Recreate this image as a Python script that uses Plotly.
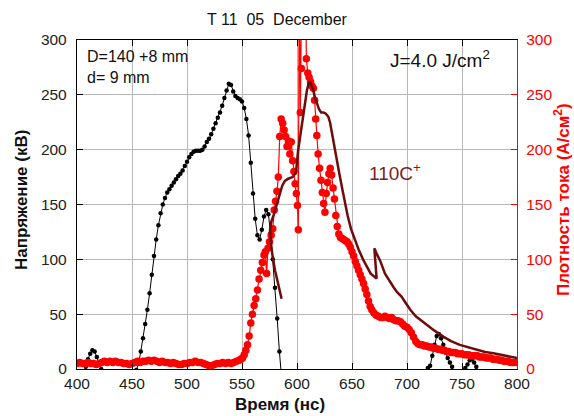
import plotly.graph_objects as go

# ---------------- data ----------------
# Voltage (kV), black dotted trace
volt_t = [400, 402, 404, 406, 408, 410, 412, 414, 416, 418, 420, 422, 424, 428, 432, 436, 440, 444, 448, 452,
          454, 456, 458, 460, 462, 464, 466, 468, 470, 472, 474, 476, 478, 480, 482, 484, 486, 488, 490, 492,
          494, 496, 498, 500, 502, 504, 506, 508, 510, 512, 514, 516, 518, 520, 522, 524, 526, 528, 530, 532,
          534, 536, 538, 540, 542, 544, 546, 548, 550, 552, 554, 556, 558, 560, 562, 564, 566, 568, 570, 572,
          574, 576, 578, 580, 582, 584, 586, 590, 600, 650, 700, 710, 716, 719, 721, 723, 725, 727, 729, 731,
          733, 735, 737, 739, 741, 743, 747, 751, 753, 755, 757, 759, 761, 763, 765, 770, 780, 790, 800]
volt_v = [-4, -4, -4, -3, 2, 9, 14, 17, 16, 11, 5, 0, -4, -4, -4, -4, -4, -4, -4, -4,
          -1, 5, 16, 28, 41, 54, 69, 86, 103, 118, 131, 142, 150, 156, 161, 164, 167, 170, 173, 176,
          178, 181, 185, 189, 193, 196, 198, 199, 199, 199, 200, 203, 207, 210, 214, 219, 224, 229, 234, 240,
          247, 254, 260, 259, 253, 249, 247, 246, 244, 238, 228, 213, 188, 160, 137, 122, 118, 127, 139, 145,
          141, 124, 100, 74, 46, 16, -8, -30, -40, -40, -30, -20, -4, 1, 3, 12, 22, 30, 32, 28,
          22, 15, 10, 6, 2, -3, -4, -2, 1, 4, 8, 9, 6, 2, -2, -5, -6, -6, -6]

# Current density (A/cm^2), red trace
cur_t = [400, 402.5, 405, 407.5, 410, 412.5, 415, 417.5, 420, 422.5, 425, 427.5, 430, 432.5, 435, 437.5,
         440, 442.5, 445, 447.5, 450, 452.5, 455, 457.5, 460, 462.5, 465, 467.5, 470, 472.5, 475, 477.5,
         480, 482.5, 485, 487.5, 490, 492.5, 495, 497.5, 500, 502.5, 505, 507.5, 510, 512.5, 515, 517.5,
         520, 522.5, 525, 527.5, 530, 532.5, 535, 537.5, 540, 542.5, 545, 547.5,
         549, 550.5, 552, 553.5, 555, 556.5, 558, 559.5, 561, 562.5, 564, 565.5, 567, 568.5, 570, 571.2,
         572.4, 573.6, 575, 576.5, 578, 579.3, 580.5, 581.8, 583, 584.3, 585.6, 587, 588.3, 589.6, 590.9,
         592.2, 593.5, 594.8, 596, 597.2, 598.3, 599.4, 600.4, 601.2, 602, 603, 604, 605, 606.2, 607.4,
         608.5, 609.8, 611, 612.3, 613.6, 614.9, 616, 617, 618, 619.2, 620.5, 621.8, 623, 624.2, 625.4,
         626.6, 627.8, 629, 630.2, 631.5, 632.8, 634, 635.3, 636.6, 638, 639.5, 641, 642.5, 644, 645.5,
         647, 648.5, 650, 651.5, 653, 654.5, 656, 657.5, 659, 660.5, 662, 663.5, 665, 666.5, 668, 670,
         672, 674, 676, 678, 680, 682, 684, 686, 688, 690, 692, 694, 696, 698, 700, 702, 704, 706, 708,
         710, 712, 714, 716, 718, 720, 722, 724, 726, 728, 730, 732, 734, 736, 738, 740, 742, 744, 746,
         748, 750, 752, 754, 756, 758, 760, 762, 764, 766, 768, 770, 772, 774, 776, 778, 780, 782, 784,
         786, 788, 790, 792, 794, 796, 798, 800]
cur_j = [5, 6, 5, 5, 6, 5, 5, 4, 5, 6, 7, 6, 7, 6, 7, 6,
         6, 5, 5, 4, 5, 6, 7, 6, 7, 7, 8, 7, 8, 7, 6, 7,
         6, 6, 5, 6, 5, 4, 4, 5, 5, 6, 6, 7, 6, 6, 5, 4,
         3, 3, 4, 5, 5, 6, 5, 6, 5, 6, 7, 8,
         9, 10, 13, 17, 22, 30, 42, 50, 58, 64, 72, 82, 90, 97, 104, 107,
         87, 110, 116, 122, 128, 145, 153, 162, 175, 212, 228, 224, 218, 212, 203,
         208, 196, 207, 190, 180, 169, 160, 149, 127, 360, 234, 274, 420, 330, 400,
         283, 270, 266, 262, 258, 256, 245, 228, 213, 196, 183, 172, 161, 151, 143,
         160, 170, 178, 183, 177, 165, 155, 140, 130, 123, 120, 119, 118, 117, 116,
         114, 111, 107, 103, 98, 94, 90, 86, 82, 78, 73, 68, 62, 57, 54, 51,
         49, 48, 47, 47, 48, 47, 46, 47, 45, 44, 44, 43, 41, 39, 38, 36, 33, 29, 25,
         23, 22, 22, 21, 21, 20, 20, 19, 19, 18, 18, 17, 17, 16, 16, 15, 15, 15, 14,
         14, 14, 13, 13, 13, 12, 12, 12, 12, 11, 11, 11, 10, 10, 10, 9, 9, 9, 8,
         8, 7, 7, 7, 6, 6, 6, 6]

# Model curve 110C+ (A/cm^2), dark red line
model_t = [586, 583, 580, 577.5, 576, 575.5, 576.5, 579, 581.5, 584, 586.5, 589, 592, 596, 599,
           601, 602.5, 604.3, 606, 607.5, 609, 610.5, 611.8, 613.3, 614.8, 616.5, 618, 620, 622, 624,
           626, 628.5, 630, 631.5, 633.5, 636, 638.5, 641, 643.5, 646, 649, 652.5, 656, 660, 663.5,
           667, 672.4, 670.3, 672.5, 675.5, 680, 684, 687.5, 691, 695, 699, 703, 708, 713, 718,
           725, 733, 740, 748, 756, 763, 771, 778.5, 786, 793.5, 800]
model_j = [64, 76, 90, 105, 117, 127, 134, 141, 149, 158, 167, 171.5, 173.5, 175, 179,
           199, 210, 222, 234, 244, 254, 260, 262, 258, 254, 247, 242, 237, 234, 234,
           233, 230, 225, 216, 205, 192, 178, 165, 152, 140, 128, 118, 109, 100, 93,
           87, 82.5, 110, 105, 99, 87, 80, 75, 70, 66, 60, 54, 48, 44, 40,
           35, 29.5, 25.5, 22, 19.5, 17.3, 15.5, 14.3, 12.8, 11.2, 10]

x_ticks = [400, 450, 500, 550, 600, 650, 700, 750, 800]
y_ticks = [0, 50, 100, 150, 200, 250, 300]

# ---------------- layout constants ----------------
W, H = 574, 416
ML, MR, MT, MB = 77, 57, 40, 47
PW, PH = W - ML - MR, H - MT - MB


def px(xp):
    return (xp - ML) / PW


def py(yp):
    return (H - MB - yp) / PH


FONT = "Liberation Sans, Arial, sans-serif"
RED = "#ff0000"
MODEL = "#6e0c0c"

fig = go.Figure()

fig.add_trace(go.Scatter(
    x=cur_t, y=cur_j, yaxis="y2", mode="lines+markers",
    line=dict(color=RED, width=1.2),
    marker=dict(color=RED, size=7.5), hoverinfo="skip"))

fig.add_trace(go.Scatter(
    x=volt_t, y=volt_v, mode="lines+markers",
    line=dict(color="black", width=1),
    marker=dict(color="black", size=4.5), hoverinfo="skip"))

fig.add_trace(go.Scatter(
    x=model_t, y=model_j, yaxis="y2", mode="lines",
    line=dict(color=MODEL, width=2.5), hoverinfo="skip"))

grid = "#b8b8b8"
fig.update_layout(
    width=W, height=H,
    margin=dict(l=ML, r=MR, t=MT, b=MB),
    paper_bgcolor="white", plot_bgcolor="white",
    showlegend=False,
    font=dict(family=FONT, color="#222"),
    xaxis=dict(range=[400, 800], tickvals=x_ticks, ticktext=[str(v) for v in x_ticks],
               showgrid=True, gridcolor=grid, gridwidth=1,
               showline=True, linecolor="black", linewidth=1.3, mirror="ticks",
               ticks="inside", ticklen=6, tickcolor="black", tickwidth=1.3,
               tickfont=dict(size=15.5, color="#222"), zeroline=False),
    yaxis=dict(range=[0, 300], tickvals=y_ticks, ticktext=[str(v) for v in y_ticks],
               showgrid=True, gridcolor=grid, gridwidth=1,
               showline=True, linecolor="black", linewidth=1.3,
               ticks="inside", ticklen=6, tickcolor="black", tickwidth=1.3,
               tickfont=dict(size=15.5, color="#222"), zeroline=False,
               ticklabelstandoff=6),
    yaxis2=dict(range=[0, 300], tickvals=y_ticks, ticktext=[str(v) for v in y_ticks],
                overlaying="y", side="right", showgrid=False,
                showline=True, linecolor=RED, linewidth=1.3,
                ticks="inside", ticklen=6, tickcolor=RED, tickwidth=1.3,
                tickfont=dict(size=15.5, color=RED), zeroline=False,
                ticklabelstandoff=5),
)

ann = []
ann.append(dict(text="T 11  05  December", x=px(277), y=py(19), xref="paper", yref="paper",
                showarrow=False, xanchor="center", yanchor="middle",
                font=dict(size=16, color="#111", family=FONT)))
ann.append(dict(text="<b>Время (нс)</b>", x=px(280), y=py(404), xref="paper", yref="paper",
                showarrow=False, xanchor="center", yanchor="middle",
                font=dict(size=17, color="#111", family=FONT)))
ann.append(dict(text="<b>Напряжение (кВ)</b>", x=px(22), y=py(200), xref="paper", yref="paper",
                showarrow=False, xanchor="center", yanchor="middle", textangle=-90,
                font=dict(size=17, color="#111", family=FONT)))
ann.append(dict(text="<b>Плотность тока (А/см<sup>2</sup>)</b>", x=px(562), y=py(200),
                xref="paper", yref="paper", showarrow=False, xanchor="center", yanchor="middle",
                textangle=-90, font=dict(size=17, color=RED, family=FONT)))
ann.append(dict(text="D=140 +8 mm", x=px(85), y=py(57), xref="paper", yref="paper",
                showarrow=False, xanchor="left", yanchor="middle",
                font=dict(size=16, color="#111", family=FONT)))
ann.append(dict(text="d= 9 mm", x=px(85), y=py(77), xref="paper", yref="paper",
                showarrow=False, xanchor="left", yanchor="middle",
                font=dict(size=16, color="#111", family=FONT)))
ann.append(dict(text="J=4.0 J/cm<sup>2</sup>", x=px(388), y=py(59), xref="paper", yref="paper",
                showarrow=False, xanchor="left", yanchor="middle",
                font=dict(size=19, color="#111", family=FONT)))
ann.append(dict(text="110C<sup>+</sup>", x=px(367), y=py(172), xref="paper", yref="paper",
                showarrow=False, xanchor="left", yanchor="middle",
                font=dict(size=19, color="#7a1e1e", family=FONT)))
fig.update_layout(annotations=ann)

fig.write_html("out.html")
